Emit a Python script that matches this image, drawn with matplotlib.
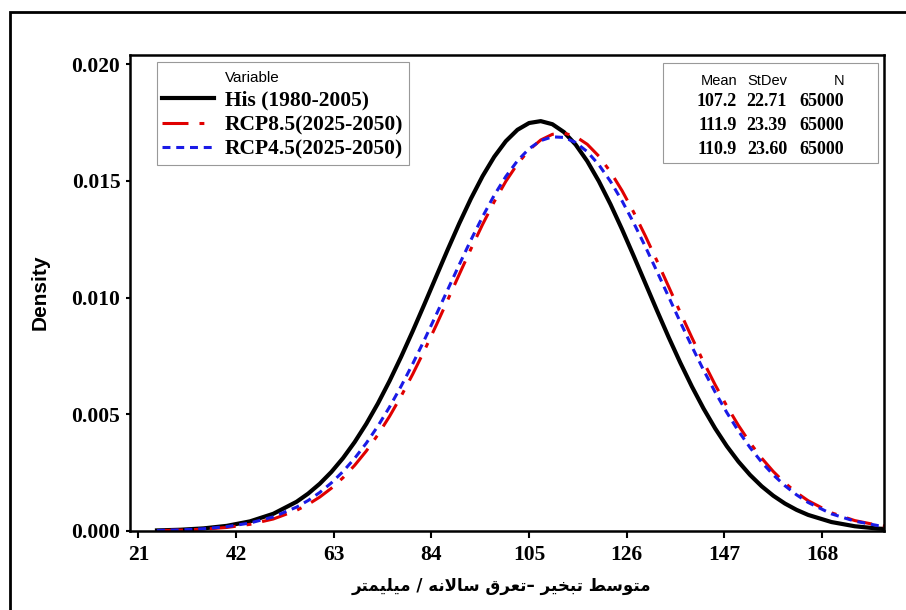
import matplotlib
matplotlib.use('Agg')
import matplotlib.pyplot as plt
from matplotlib.patches import Rectangle

# density values
x_vals = [25, 30, 35, 40, 45, 50, 55, 57.5, 60, 62.5, 65, 67.5, 70, 72.5, 75, 77.5, 80,
          82.5, 85, 87.5, 90, 92.5, 95, 97.5, 100, 102.5, 105, 107.5, 110, 112.5, 115,
          117.5, 120, 122.5, 125, 127.5, 130, 132.5, 135, 137.5, 140, 142.5, 145, 147.5,
          150, 152.5, 155, 157.5, 160, 162.5, 165, 170, 175, 180, 185]
his = [0.000025, 0.000054, 0.000112, 0.000220, 0.000413, 0.000737, 0.001251,
       0.001602, 0.002026, 0.002532, 0.003125, 0.003811, 0.004592, 0.005466, 0.006429,
       0.007470, 0.008574, 0.009723, 0.010894, 0.012059, 0.013187, 0.014247, 0.015207,
       0.016036, 0.016706, 0.017195, 0.017485, 0.017566, 0.017434, 0.017095, 0.016561,
       0.015851, 0.014988, 0.014001, 0.012921, 0.011781, 0.010612, 0.009445, 0.008304,
       0.007214, 0.006191, 0.005249, 0.004396, 0.003638, 0.002975, 0.002403, 0.001917,
       0.001511, 0.001177, 0.000906, 0.000689, 0.000384, 0.000204, 0.000103, 0.000050]
rcp85 = [0.000017, 0.000037, 0.000077, 0.000151, 0.000285, 0.000514, 0.000885,
         0.001141, 0.001455, 0.001834, 0.002285, 0.002815, 0.003428, 0.004128, 0.004914,
         0.005783, 0.006729, 0.007741, 0.008804, 0.009899, 0.011003, 0.012092, 0.013138,
         0.014112, 0.014986, 0.015733, 0.016330, 0.016757, 0.017000, 0.017051, 0.016907,
         0.016574, 0.016063, 0.015392, 0.014581, 0.013655, 0.012643, 0.011573, 0.010473,
         0.009370, 0.008288, 0.007248, 0.006266, 0.005356, 0.004526, 0.003781, 0.003123,
         0.002550, 0.002059, 0.001644, 0.001297, 0.000780, 0.000448, 0.000246, 0.000129]
rcp45 = [0.000022, 0.000047, 0.000096, 0.000186, 0.000343, 0.000605, 0.001023,
         0.001307, 0.001652, 0.002064, 0.002550, 0.003116, 0.003765, 0.004499, 0.005315,
         0.006210, 0.007174, 0.008195, 0.009257, 0.010341, 0.011422, 0.012475, 0.013472,
         0.014388, 0.015194, 0.015867, 0.016385, 0.016731, 0.016893, 0.016867, 0.016652,
         0.016257, 0.015694, 0.014981, 0.014141, 0.013199, 0.012183, 0.011120, 0.010036,
         0.008957, 0.007904, 0.006898, 0.005952, 0.005079, 0.004285, 0.003575, 0.002949,
         0.002406, 0.001941, 0.001549, 0.001222, 0.000735, 0.000423, 0.000232, 0.000122]

labels = ['His (1980-2005)', 'RCP8.5(2025-2050)', 'RCP4.5(2025-2050)']
means = [107.2, 111.9, 110.9]
stdevs = [22.71, 23.39, 23.60]
counts = [65000, 65000, 65000]

xticks = [21, 42, 63, 84, 105, 126, 147, 168]
yticks = [0.000, 0.005, 0.010, 0.015, 0.020]

# Persian axis title, written with presentation forms in visual order
# (متوسط تبخیر –تعرق سالانه / میلیمتر)
xlabel_forms = ('\uFEE3\uFE98\uFEEE\uFEB3\uFEC2 '
                '\uFE97\uFE92\uFEA8\uFEF4\uFEAE '
                '\u2013\uFE97\uFECC\uFEAE\uFED5 '
                '\uFEB3\uFE8E\uFEFB\uFEE7\uFEEA '
                '/ '
                '\uFEE3\uFEF4\uFEE0\uFEF4\uFEE4\uFE98\uFEAE')
xlabel = xlabel_forms[::-1]

serif = 'Liberation Serif'
sans = 'Liberation Sans'

fig = plt.figure(figsize=(9.06, 6.10), dpi=100)
ax = fig.add_axes([130 / 906, 1 - 531 / 610, 754 / 906, 476 / 610])

ax.plot(x_vals, his, color='black', lw=3.0, label=labels[0])
ax.plot(x_vals, rcp85, color='#e00000', lw=2.2, dashes=(8.5, 3.6, 1.6, 3.6), label=labels[1])
ax.plot(x_vals, rcp45, color='#1a1ae6', lw=2.2, dashes=(2.6, 1.9), label=labels[2])
ax.plot([], [], color='none', label='Variable')

ax.set_xlim(19.2, 181.3)
ax.set_ylim(0, 0.0204)
ax.set_xticks(xticks)
ax.set_yticks(yticks)
ax.set_yticklabels([f'{v:.3f}' for v in yticks])

for s in ax.spines.values():
    s.set_linewidth(1.8)
ax.tick_params(axis='x', length=5, width=1.5, pad=5)
ax.tick_params(axis='y', length=3, width=1.5, pad=4)
for t in ax.get_xticklabels() + ax.get_yticklabels():
    t.set_fontfamily(serif)
    t.set_fontweight('bold')
    t.set_fontsize(15.5)

ax.set_ylabel('Density', fontfamily=sans, fontweight='bold', fontsize=15)
ax.yaxis.set_label_coords((40 - 130) / 754, (531 - 292) / 476)
ax.yaxis.label.set_verticalalignment('center')
ax.set_xlabel(xlabel, fontfamily='DejaVu Sans', fontweight='bold', fontsize=12)
ax.xaxis.set_label_coords((501 - 130) / 754, (531 - 586) / 476)
ax.xaxis.label.set_verticalalignment('center')

# legend with "Variable" heading on its own row
h, l = ax.get_legend_handles_labels()
order = [3, 0, 1, 2]
leg = ax.legend([h[i] for i in order], [l[i] for i in order],
                loc='upper left', bbox_to_anchor=((157 - 130) / 754, (531 - 62) / 476),
                prop={'family': serif, 'weight': 'bold', 'size': 15.5},
                frameon=True, fancybox=False, edgecolor='#999999', framealpha=1,
                handlelength=2.4, handletextpad=0.5, labelspacing=0.22,
                borderpad=0.25, borderaxespad=0)
leg.get_frame().set_linewidth(0.8)
leg.get_texts()[0].set_fontfamily(sans)
leg.get_texts()[0].set_fontweight('normal')
leg.get_texts()[0].set_fontsize(11)

# statistics box
def ax_x(px):
    return (px - 130) / 754

def ax_y(py):
    return (531 - py) / 476

ax.add_patch(Rectangle((ax_x(663), ax_y(163)), ax_x(878) - ax_x(663), ax_y(63) - ax_y(163),
                       transform=ax.transAxes, fill=False, edgecolor='#999999', lw=0.8))
col_x = [737, 787, 844]
for txt, px in zip(['Mean', 'StDev', 'N'], col_x):
    ax.text(ax_x(px), ax_y(81), txt, transform=ax.transAxes, ha='right', va='center',
            fontfamily=sans, fontsize=10.5)
row_y = [102, 126, 150]
for m, sd, n, py in zip(means, stdevs, counts, row_y):
    for txt, px in zip([f'{m:.1f}', f'{sd:.2f}', f'{n}'], col_x):
        ax.text(ax_x(px), ax_y(py), txt, transform=ax.transAxes, ha='right', va='center',
                fontfamily=serif, fontweight='bold', fontsize=13)

# outer frame of the figure
fig.add_artist(Rectangle((10 / 906, -0.1), 1.2, 1 - 12 / 610 + 0.1,
                         transform=fig.transFigure, fill=False, edgecolor='black', lw=2))

fig.savefig('out.png', dpi=100)
